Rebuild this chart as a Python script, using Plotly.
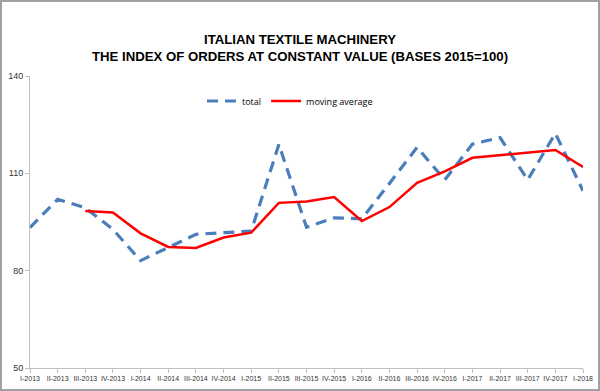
import plotly.graph_objects as go

quarters = ["I-2013","II-2013","III-2013","IV-2013",
            "I-2014","II-2014","III-2014","IV-2014",
            "I-2015","II-2015","III-2015","IV-2015",
            "I-2016","II-2016","III-2016","IV-2016",
            "I-2017","II-2017","III-2017","IV-2017","I-2018"]
total = [93.3, 102.0, 99.4, 92.7, 83.1, 87.1, 91.2, 91.7, 92.2, 118.9,
         93.4, 96.3, 96.0, 106.9, 118.0, 108.0, 119.0, 121.0, 108.0, 122.3, 104.6]
moving_avg = [None, None, 98.4, 97.9, 91.5, 87.3, 87.0, 90.2, 91.7, 100.9,
              101.3, 102.7, 95.3, 99.6, 107.1, 110.6, 114.8, 115.6, 116.2, 117.2, 112.0]
y_ticks = [50, 80, 110, 140]

W, H = 600, 391
ml, mr, mt, mb = 30, 17, 76, 23
pw, ph = W - ml - mr, H - mt - mb

fig = go.Figure()
fig.add_trace(go.Scatter(x=quarters, y=total, name="total", mode="lines",
                         line=dict(color="#4a7ebb", width=3.2, dash="11px,7px")))
fig.add_trace(go.Scatter(x=quarters, y=moving_avg, name="moving average", mode="lines",
                         line=dict(color="#ff0000", width=2.5)))

fig.update_layout(
    width=W, height=H,
    margin=dict(l=ml, r=mr, t=mt, b=mb, autoexpand=False),
    paper_bgcolor="white", plot_bgcolor="white",
    title=dict(text="<b>ITALIAN TEXTILE MACHINERY<br>THE INDEX OF ORDERS AT CONSTANT VALUE (BASES 2015=100)</b>",
               x=0.5, xanchor="center", y=1 - 44 / H, yanchor="top",
               font=dict(family="Liberation Sans, Arial", size=13.2, color="#000000")),
    showlegend=True,
    legend=dict(orientation="h", x=(202 - ml) / pw, y=(mt + ph - 101) / ph, xanchor="left", yanchor="middle",
                bgcolor="rgba(0,0,0,0)", font=dict(family="Open Sans, Liberation Sans", size=9, color="#000"),
                itemwidth=30, tracegroupgap=0),
    xaxis=dict(type="category", range=[0, len(quarters) - 1], showgrid=False, automargin=False,
               showline=True, linecolor="#c0c0c0", linewidth=1,
               ticks="outside", ticklen=4, tickcolor="#c0c0c0",
               tickfont=dict(family="Liberation Sans, Arial", size=7, color="#333"),
               tickangle=0, zeroline=False),
    yaxis=dict(range=[50, 140], tickvals=y_ticks, showgrid=False, automargin=False,
               showline=True, linecolor="#c0c0c0", linewidth=1,
               ticks="outside", ticklen=4, tickcolor="#c0c0c0",
               tickfont=dict(family="Liberation Sans, Arial", size=9, color="#333"),
               zeroline=False),
    shapes=[dict(type="rect", xref="paper", yref="paper",
                 x0=-(ml - 1) / pw, x1=1 + (mr - 1) / pw,
                 y0=-(mb - 1) / ph, y1=1 + (mt - 1) / ph,
                 line=dict(color="#a0a0a0", width=2), fillcolor="rgba(0,0,0,0)", layer="below")],
)

fig.write_html("out.html")
